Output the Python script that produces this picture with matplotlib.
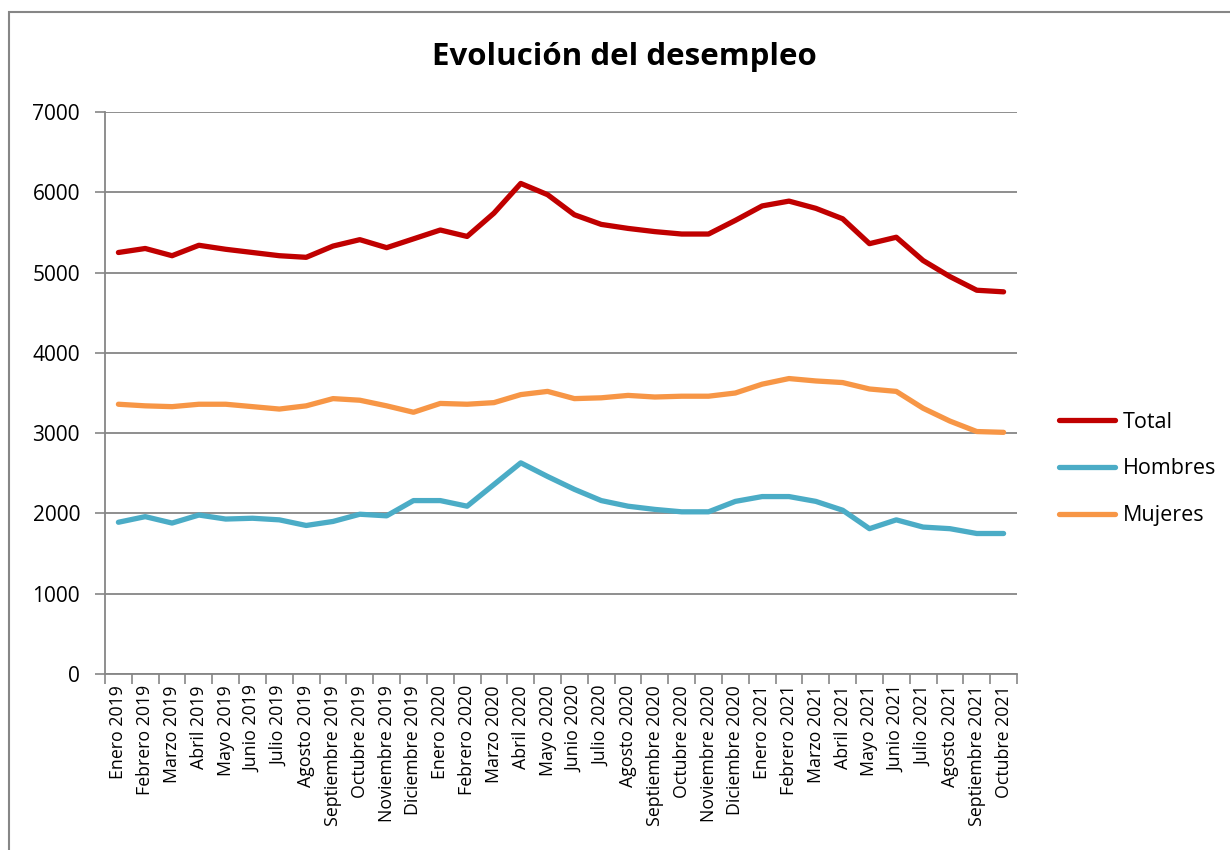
import numpy as np
import matplotlib.pyplot as plt
from matplotlib.patches import Rectangle

# DATOS
meses = ["Enero 2019", "Febrero 2019", "Marzo 2019", "Abril 2019", "Mayo 2019",
         "Junio 2019", "Julio 2019", "Agosto 2019", "Septiembre 2019", "Octubre 2019",
         "Noviembre 2019", "Diciembre 2019", "Enero 2020", "Febrero 2020", "Marzo 2020",
         "Abril 2020", "Mayo 2020", "Junio 2020", "Julio 2020", "Agosto 2020",
         "Septiembre 2020", "Octubre 2020", "Noviembre 2020", "Diciembre 2020",
         "Enero 2021", "Febrero 2021", "Marzo 2021", "Abril 2021", "Mayo 2021",
         "Junio 2021", "Julio 2021", "Agosto 2021", "Septiembre 2021", "Octubre 2021"]

total = [5250, 5300, 5210, 5340, 5290, 5250, 5210, 5190, 5330, 5410,
         5310, 5420, 5530, 5450, 5740, 6110, 5970, 5720, 5600, 5550,
         5510, 5480, 5480, 5650, 5830, 5890, 5800, 5670, 5360, 5440,
         5150, 4950, 4780, 4760]

hombres = [1890, 1960, 1880, 1980, 1930, 1940, 1920, 1850, 1900, 1990,
           1970, 2160, 2160, 2090, 2360, 2630, 2460, 2300, 2160, 2090,
           2050, 2020, 2020, 2150, 2210, 2210, 2150, 2040, 1810, 1920,
           1830, 1810, 1750, 1750]

mujeres = [3360, 3340, 3330, 3360, 3360, 3330, 3300, 3340, 3430, 3410,
           3340, 3260, 3370, 3360, 3380, 3480, 3520, 3430, 3440, 3470,
           3450, 3460, 3460, 3500, 3610, 3680, 3650, 3630, 3550, 3520,
           3310, 3150, 3020, 3010]

plt.rcParams['font.family'] = ['Open Sans', 'DejaVu Sans']
gris = '#868686'

fig = plt.figure(figsize=(12.3, 8.5), dpi=100)
ax = fig.add_axes([105/1230, 1 - 674/850, (1017 - 105)/1230, (674 - 112)/850])

x = np.arange(len(meses))
ax.plot(x, total, color='#C00000', lw=3.8, solid_capstyle='round', label='Total')
ax.plot(x, hombres, color='#4BACC6', lw=3.8, solid_capstyle='round', label='Hombres')
ax.plot(x, mujeres, color='#F79646', lw=3.8, solid_capstyle='round', label='Mujeres')

ax.set_xlim(-0.5, len(meses) - 0.5)
ax.set_ylim(0, 7000)
ax.set_yticks(range(0, 7001, 1000))
ax.tick_params(axis='y', labelsize=15, length=7, width=1.2, color=gris, pad=11)
ax.yaxis.grid(True, color=gris, lw=1.3)
ax.set_axisbelow(True)

# ticks en los bordes de las categorias, etiquetas en el centro
ax.set_xticks(np.arange(-0.5, len(meses)), minor=False)
ax.set_xticklabels([])
ax.tick_params(axis='x', which='major', length=7, width=1.2, color=gris, direction='out')
ax.set_xticks(x, minor=True)
ax.set_xticklabels(meses, minor=True, rotation=90, fontsize=12.8)
ax.tick_params(axis='x', which='minor', length=0, pad=8)

for s in ['top', 'right']:
    ax.spines[s].set_visible(False)
for s in ['left', 'bottom']:
    ax.spines[s].set_color(gris)
    ax.spines[s].set_linewidth(1.3)

fig.text(624/1230, 1 - 57/850, "Evolución del desempleo", ha='center', va='center',
         fontsize=22.5, fontweight='bold')

fig.legend(loc='center left', bbox_to_anchor=(1040/1230, 1 - 469/850), frameon=False,
           fontsize=15.5, handlelength=2.6, labelspacing=1.2, handletextpad=0.35)

# marco exterior
fig.patches.append(Rectangle((9/1230, -0.01), 1.1, 1 - 12/850 + 0.01, transform=fig.transFigure,
                             fill=False, edgecolor=gris, lw=1.5))

fig.savefig("out.png", dpi=100)
